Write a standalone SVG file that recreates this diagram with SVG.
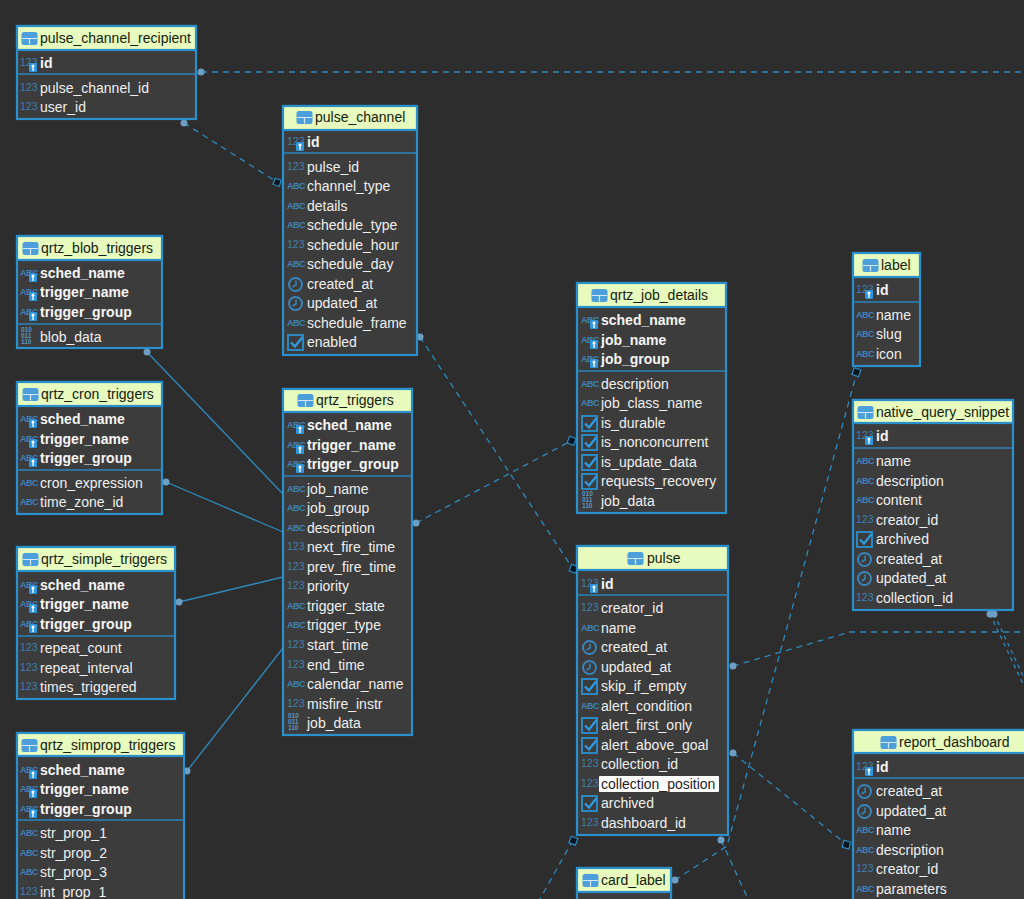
<svg xmlns="http://www.w3.org/2000/svg" width="1024" height="899" viewBox="0 0 1024 899">
<style>
text{font-family:"Liberation Sans",Arial,sans-serif}
.box{fill:#3c3c3c;stroke:#2a90cc;stroke-width:2.200}
.hd{fill:#e6fbbd;stroke:#2a90cc;stroke-width:2.200}
.sep{stroke:#2a85bb;stroke-width:1.300}
.t{font-size:14px;fill:#16200f}
.r{font-size:14px;fill:#efefef}
.k{font-size:14px;fill:#f6f6f6;font-weight:700}
.n{font-size:10.5px;fill:#3f7fb0}
.a{font-size:9px;fill:#3f82b8;font-weight:700;letter-spacing:-.5px}
.b{font-size:6.500px;fill:#5b96c2;font-weight:700}
.c{fill:none;stroke:#2f8abb;stroke-width:1.300}
.d{stroke-dasharray:6 5}
.s{stroke-dasharray:4 4}
.dot{fill:#6d9fc2}
.dia{fill:#05141f;stroke:#2b8cc0;stroke-width:1.200}
</style>
<defs>
<g id="tb"><rect x="-.5" y="-1" width="16" height="13" rx="2.500" fill="#4c9fdb"/><path d="M0 5.500h15M7.500 5.500v6" stroke="#d5e8f6" stroke-width="1.200" fill="none"/></g>
<g id="key"><rect x="1" y="1" width="8" height="9" rx="1" fill="#2f95dc"/><circle cx="5" cy="4" r="1.500" fill="#fff"/><rect x="4.400" y="4" width="1.300" height="5" fill="#fff"/></g>
<g id="chk"><rect x="0" y="0" width="15" height="15" fill="none" stroke="#2a88c2" stroke-width="2"/><path d="M3 7.500l4 4 7.500-9.500" fill="none" stroke="#2f9be2" stroke-width="2.200"/></g>
<g id="clk"><circle cx="7.500" cy="7.500" r="6.500" fill="none" stroke="#3a84ba" stroke-width="2"/><path d="M8 3.500V8L4.500 10" fill="none" stroke="#3a84ba" stroke-width="1.500"/></g>
</defs>
<rect width="1024" height="899" fill="#2d2d2d"/>
<g id="connectors">
<path class="c d" d="M201 72H1024"/>
<path class="c d" d="M184 123L277 182"/>
<path class="c" d="M147 352L283 494"/>
<path class="c" d="M166 482L283 532"/>
<path class="c" d="M179 602L283 577"/>
<path class="c" d="M187 771L283 648"/>
<path class="c d" d="M416 523L571 441"/>
<path class="c d" d="M420 337L573 569"/>
<path class="c d" d="M733 666L850 632H1024"/>
<path class="c d" d="M733 753L846 844"/>
<path class="c d" d="M721 840L748 899"/>
<path class="c d" d="M675 880L727 846L857 372"/>
<path class="c d" d="M573 840L540 899"/>
<path class="c s" d="M990 614L1024 686"/>
<path class="c s" d="M994 614L1024 678"/>
<circle class="dot" cx="201" cy="72" r="3.500"/><circle class="dot" cx="184" cy="123" r="3.500"/><circle class="dot" cx="147" cy="352" r="3.500"/><circle class="dot" cx="166" cy="482" r="3.500"/><circle class="dot" cx="179" cy="602" r="3.500"/><circle class="dot" cx="187" cy="771" r="3.500"/><circle class="dot" cx="416" cy="523" r="3.500"/><circle class="dot" cx="420" cy="337" r="3.500"/><circle class="dot" cx="733" cy="666" r="3.500"/><circle class="dot" cx="733" cy="753" r="3.500"/><circle class="dot" cx="721" cy="840" r="3.500"/><circle class="dot" cx="675" cy="880" r="3.500"/><circle class="dot" cx="990" cy="614" r="3.500"/><circle class="dot" cx="994" cy="614" r="3.500"/>
<rect class="dia" x="274" y="179" width="6.500" height="6.500" transform="rotate(20 277 182)"/><rect class="dia" x="568" y="437" width="7" height="7" transform="rotate(20 571 441)"/><rect class="dia" x="570" y="565" width="7" height="7" transform="rotate(20 573 569)"/><rect class="dia" x="843" y="841" width="7" height="7" transform="rotate(15 846 844)"/><rect class="dia" x="570" y="837" width="7" height="7" transform="rotate(20 573 840)"/><rect class="dia" x="853" y="369" width="7" height="7" transform="rotate(20 857 372)"/>
</g>
<g id="pulse_channel_recipient">
<rect class="box" x="17" y="26" width="179" height="93"/><rect class="hd" x="17" y="26" width="179" height="24"/><use href="#tb" x="22" y="33"/><text class="t" x="40" y="43">pulse_channel_recipient</text>
<text class="n" x="20" y="66">123</text><use href="#key" x="28" y="62"/><text class="k" x="40" y="68">id</text><path class="sep" d="M17 74H196"/>
<text class="n" x="20" y="91">123</text><text class="r" x="40" y="93">pulse_channel_id</text>
<text class="n" x="20" y="110">123</text><text class="r" x="40" y="112">user_id</text>
</g>
<g id="pulse_channel">
<rect class="box" x="283" y="106" width="134" height="249"/><rect class="hd" x="283" y="106" width="134" height="24"/><use href="#tb" x="297" y="112"/><text class="t" x="315" y="122">pulse_channel</text>
<text class="n" x="287" y="145">123</text><use href="#key" x="295" y="141"/><text class="k" x="307" y="147">id</text><path class="sep" d="M283 153H417"/>
<text class="n" x="287" y="170">123</text><text class="r" x="307" y="172">pulse_id</text>
<text class="a" x="287" y="189">ABC</text><text class="r" x="307" y="191">channel_type</text>
<text class="a" x="287" y="209">ABC</text><text class="r" x="307" y="211">details</text>
<text class="a" x="287" y="228">ABC</text><text class="r" x="307" y="230">schedule_type</text>
<text class="n" x="287" y="248">123</text><text class="r" x="307" y="250">schedule_hour</text>
<text class="a" x="287" y="267">ABC</text><text class="r" x="307" y="269">schedule_day</text>
<use href="#clk" x="288" y="277"/><text class="r" x="307" y="289">created_at</text>
<use href="#clk" x="288" y="296"/><text class="r" x="307" y="308">updated_at</text>
<text class="a" x="287" y="326">ABC</text><text class="r" x="307" y="328">schedule_frame</text>
<use href="#chk" x="288" y="335"/><text class="r" x="307" y="347">enabled</text>
</g>
<g id="qrtz_blob_triggers">
<rect class="box" x="17" y="236" width="145" height="112"/><rect class="hd" x="17" y="236" width="145" height="24"/><use href="#tb" x="23" y="243"/><text class="t" x="41" y="253">qrtz_blob_triggers</text>
<text class="a" x="20" y="276">ABC</text><use href="#key" x="28" y="272"/><text class="k" x="40" y="278">sched_name</text>
<text class="a" x="20" y="295">ABC</text><use href="#key" x="28" y="291"/><text class="k" x="40" y="297">trigger_name</text>
<text class="a" x="20" y="315">ABC</text><use href="#key" x="28" y="311"/><text class="k" x="40" y="317">trigger_group</text><path class="sep" d="M17 324H162"/>
<text class="b" x="21" y="332">010</text><text class="b" x="21" y="338">011</text><text class="b" x="21" y="344">110</text><text class="r" x="40" y="342">blob_data</text>
</g>
<g id="qrtz_cron_triggers">
<rect class="box" x="17" y="382" width="145" height="132"/><rect class="hd" x="17" y="382" width="145" height="24"/><use href="#tb" x="23" y="389"/><text class="t" x="41" y="399">qrtz_cron_triggers</text>
<text class="a" x="20" y="422">ABC</text><use href="#key" x="28" y="418"/><text class="k" x="40" y="424">sched_name</text>
<text class="a" x="20" y="442">ABC</text><use href="#key" x="28" y="438"/><text class="k" x="40" y="444">trigger_name</text>
<text class="a" x="20" y="461">ABC</text><use href="#key" x="28" y="457"/><text class="k" x="40" y="463">trigger_group</text><path class="sep" d="M17 470H162"/>
<text class="a" x="20" y="486">ABC</text><text class="r" x="40" y="488">cron_expression</text>
<text class="a" x="20" y="505">ABC</text><text class="r" x="40" y="507">time_zone_id</text>
</g>
<g id="qrtz_simple_triggers">
<rect class="box" x="17" y="547" width="158" height="152"/><rect class="hd" x="17" y="547" width="158" height="24"/><use href="#tb" x="23" y="554"/><text class="t" x="41" y="564">qrtz_simple_triggers</text>
<text class="a" x="20" y="588">ABC</text><use href="#key" x="28" y="584"/><text class="k" x="40" y="590">sched_name</text>
<text class="a" x="20" y="607">ABC</text><use href="#key" x="28" y="603"/><text class="k" x="40" y="609">trigger_name</text>
<text class="a" x="20" y="627">ABC</text><use href="#key" x="28" y="623"/><text class="k" x="40" y="629">trigger_group</text><path class="sep" d="M17 636H175"/>
<text class="n" x="20" y="651">123</text><text class="r" x="40" y="653">repeat_count</text>
<text class="n" x="20" y="671">123</text><text class="r" x="40" y="673">repeat_interval</text>
<text class="n" x="20" y="690">123</text><text class="r" x="40" y="692">times_triggered</text>
</g>
<g id="qrtz_simprop_triggers">
<rect class="box" x="17" y="733" width="167" height="180"/><rect class="hd" x="17" y="733" width="167" height="23"/><use href="#tb" x="22" y="740"/><text class="t" x="40" y="750">qrtz_simprop_triggers</text>
<text class="a" x="20" y="773">ABC</text><use href="#key" x="28" y="769"/><text class="k" x="40" y="775">sched_name</text>
<text class="a" x="20" y="792">ABC</text><use href="#key" x="28" y="788"/><text class="k" x="40" y="794">trigger_name</text>
<text class="a" x="20" y="812">ABC</text><use href="#key" x="28" y="808"/><text class="k" x="40" y="814">trigger_group</text><path class="sep" d="M17 820H184"/>
<text class="a" x="20" y="836">ABC</text><text class="r" x="40" y="838">str_prop_1</text>
<text class="a" x="20" y="856">ABC</text><text class="r" x="40" y="858">str_prop_2</text>
<text class="a" x="20" y="875">ABC</text><text class="r" x="40" y="877">str_prop_3</text>
<text class="n" x="20" y="895">123</text><text class="r" x="40" y="897">int_prop_1</text>
</g>
<g id="qrtz_triggers">
<rect class="box" x="283" y="389" width="129" height="346"/><rect class="hd" x="283" y="389" width="129" height="23"/><use href="#tb" x="298" y="395"/><text class="t" x="316" y="405">qrtz_triggers</text>
<text class="a" x="287" y="428">ABC</text><use href="#key" x="295" y="424"/><text class="k" x="307" y="430">sched_name</text>
<text class="a" x="287" y="448">ABC</text><use href="#key" x="295" y="444"/><text class="k" x="307" y="450">trigger_name</text>
<text class="a" x="287" y="467">ABC</text><use href="#key" x="295" y="463"/><text class="k" x="307" y="469">trigger_group</text><path class="sep" d="M283 476H412"/>
<text class="a" x="287" y="492">ABC</text><text class="r" x="307" y="494">job_name</text>
<text class="a" x="287" y="511">ABC</text><text class="r" x="307" y="513">job_group</text>
<text class="a" x="287" y="531">ABC</text><text class="r" x="307" y="533">description</text>
<text class="n" x="287" y="550">123</text><text class="r" x="307" y="552">next_fire_time</text>
<text class="n" x="287" y="570">123</text><text class="r" x="307" y="572">prev_fire_time</text>
<text class="n" x="287" y="589">123</text><text class="r" x="307" y="591">priority</text>
<text class="a" x="287" y="609">ABC</text><text class="r" x="307" y="611">trigger_state</text>
<text class="a" x="287" y="628">ABC</text><text class="r" x="307" y="630">trigger_type</text>
<text class="n" x="287" y="648">123</text><text class="r" x="307" y="650">start_time</text>
<text class="n" x="287" y="668">123</text><text class="r" x="307" y="670">end_time</text>
<text class="a" x="287" y="687">ABC</text><text class="r" x="307" y="689">calendar_name</text>
<text class="n" x="287" y="707">123</text><text class="r" x="307" y="709">misfire_instr</text>
<text class="b" x="288" y="718">010</text><text class="b" x="288" y="724">011</text><text class="b" x="288" y="730">110</text><text class="r" x="307" y="728">job_data</text>
</g>
<g id="qrtz_job_details">
<rect class="box" x="577" y="283" width="149" height="230"/><rect class="hd" x="577" y="283" width="149" height="24"/><use href="#tb" x="592" y="290"/><text class="t" x="610" y="300">qrtz_job_details</text>
<text class="a" x="581" y="323">ABC</text><use href="#key" x="589" y="319"/><text class="k" x="601" y="325">sched_name</text>
<text class="a" x="581" y="343">ABC</text><use href="#key" x="589" y="339"/><text class="k" x="601" y="345">job_name</text>
<text class="a" x="581" y="362">ABC</text><use href="#key" x="589" y="358"/><text class="k" x="601" y="364">job_group</text><path class="sep" d="M577 371H726"/>
<text class="a" x="581" y="387">ABC</text><text class="r" x="601" y="389">description</text>
<text class="a" x="581" y="406">ABC</text><text class="r" x="601" y="408">job_class_name</text>
<use href="#chk" x="582" y="416"/><text class="r" x="601" y="428">is_durable</text>
<use href="#chk" x="582" y="435"/><text class="r" x="601" y="447">is_nonconcurrent</text>
<use href="#chk" x="582" y="455"/><text class="r" x="601" y="467">is_update_data</text>
<use href="#chk" x="582" y="474"/><text class="r" x="601" y="486">requests_recovery</text>
<text class="b" x="582" y="496">010</text><text class="b" x="582" y="502">011</text><text class="b" x="582" y="508">110</text><text class="r" x="601" y="506">job_data</text>
</g>
<g id="label">
<rect class="box" x="853" y="253" width="67" height="113"/><rect class="hd" x="853" y="253" width="67" height="24"/><use href="#tb" x="863" y="260"/><text class="t" x="881" y="270">label</text>
<text class="n" x="856" y="293">123</text><use href="#key" x="864" y="289"/><text class="k" x="876" y="295">id</text><path class="sep" d="M853 302H920"/>
<text class="a" x="856" y="318">ABC</text><text class="r" x="876" y="320">name</text>
<text class="a" x="856" y="337">ABC</text><text class="r" x="876" y="339">slug</text>
<text class="a" x="856" y="357">ABC</text><text class="r" x="876" y="359">icon</text>
</g>
<g id="native_query_snippet">
<rect class="box" x="853" y="400" width="160" height="210"/><rect class="hd" x="853" y="400" width="160" height="23"/><use href="#tb" x="858" y="407"/><text class="t" x="876" y="417">native_query_snippet</text>
<text class="n" x="856" y="439">123</text><use href="#key" x="864" y="435"/><text class="k" x="876" y="441">id</text><path class="sep" d="M853 448H1013"/>
<text class="a" x="856" y="464">ABC</text><text class="r" x="876" y="466">name</text>
<text class="a" x="856" y="484">ABC</text><text class="r" x="876" y="486">description</text>
<text class="a" x="856" y="503">ABC</text><text class="r" x="876" y="505">content</text>
<text class="n" x="856" y="523">123</text><text class="r" x="876" y="525">creator_id</text>
<use href="#chk" x="857" y="532"/><text class="r" x="876" y="544">archived</text>
<use href="#clk" x="857" y="552"/><text class="r" x="876" y="564">created_at</text>
<use href="#clk" x="857" y="571"/><text class="r" x="876" y="583">updated_at</text>
<text class="n" x="856" y="601">123</text><text class="r" x="876" y="603">collection_id</text>
</g>
<g id="pulse">
<rect class="box" x="577" y="546" width="151" height="289"/><rect class="hd" x="577" y="546" width="151" height="24"/><use href="#tb" x="628" y="553"/><text class="t" x="647" y="563">pulse</text>
<text class="n" x="581" y="587">123</text><use href="#key" x="589" y="583"/><text class="k" x="601" y="589">id</text><path class="sep" d="M577 595H728"/>
<text class="n" x="581" y="611">123</text><text class="r" x="601" y="613">creator_id</text>
<text class="a" x="581" y="631">ABC</text><text class="r" x="601" y="633">name</text>
<use href="#clk" x="582" y="640"/><text class="r" x="601" y="652">created_at</text>
<use href="#clk" x="582" y="660"/><text class="r" x="601" y="672">updated_at</text>
<use href="#chk" x="582" y="679"/><text class="r" x="601" y="691">skip_if_empty</text>
<text class="a" x="581" y="709">ABC</text><text class="r" x="601" y="711">alert_condition</text>
<use href="#chk" x="582" y="718"/><text class="r" x="601" y="730">alert_first_only</text>
<use href="#chk" x="582" y="738"/><text class="r" x="601" y="750">alert_above_goal</text>
<text class="n" x="581" y="767">123</text><text class="r" x="601" y="769">collection_id</text>
<text class="n" x="581" y="787">123</text><rect x="599" y="776" width="120" height="16" rx="1" fill="#fff"/><text class="r" x="601" y="789" style="fill:#222">collection_position</text>
<use href="#chk" x="582" y="796"/><text class="r" x="601" y="808">archived</text>
<text class="n" x="581" y="826">123</text><text class="r" x="601" y="828">dashboard_id</text>
</g>
<g id="report_dashboard">
<rect class="box" x="853" y="730" width="190" height="190"/><rect class="hd" x="853" y="730" width="190" height="23"/><use href="#tb" x="881" y="737"/><text class="t" x="899" y="747">report_dashboard</text>
<text class="n" x="856" y="770">123</text><use href="#key" x="864" y="766"/><text class="k" x="876" y="772">id</text><path class="sep" d="M853 778H1024"/>
<use href="#clk" x="857" y="784"/><text class="r" x="876" y="796">created_at</text>
<use href="#clk" x="857" y="804"/><text class="r" x="876" y="816">updated_at</text>
<text class="a" x="856" y="833">ABC</text><text class="r" x="876" y="835">name</text>
<text class="a" x="856" y="853">ABC</text><text class="r" x="876" y="855">description</text>
<text class="n" x="856" y="872">123</text><text class="r" x="876" y="874">creator_id</text>
<text class="a" x="856" y="892">ABC</text><text class="r" x="876" y="894">parameters</text>
</g>
<g id="card_label">
<rect class="box" x="577" y="868" width="94" height="50"/><rect class="hd" x="577" y="868" width="94" height="24"/><use href="#tb" x="583" y="875"/><text class="t" x="601" y="885">card_label</text>
</g>
</svg>
